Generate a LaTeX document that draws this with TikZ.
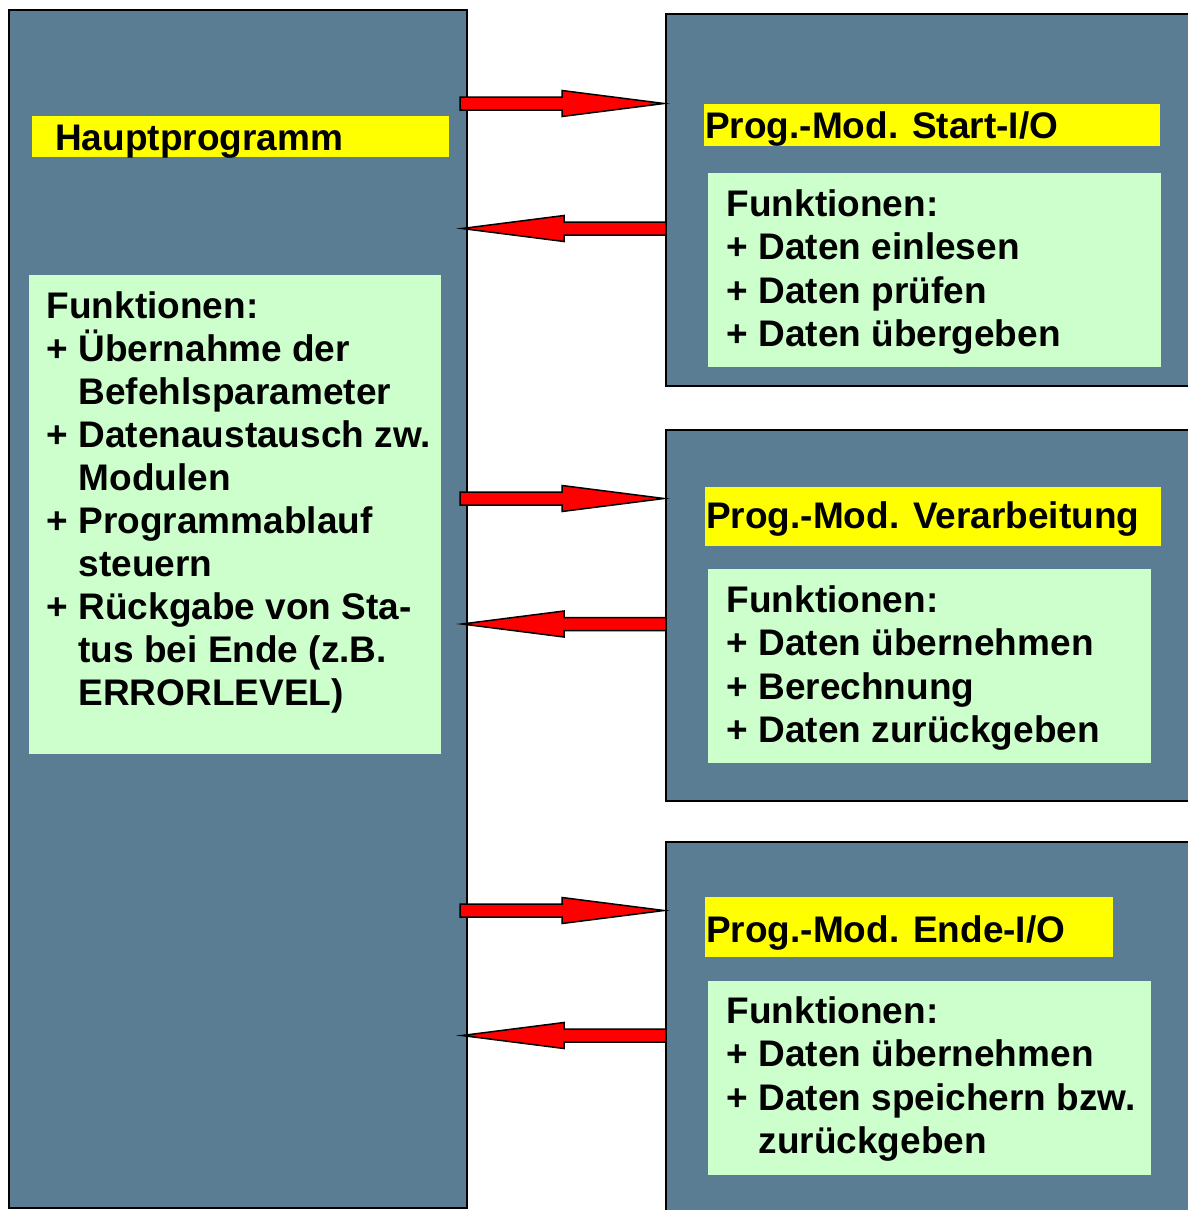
\documentclass[tikz,border=0pt]{standalone}
\usepackage{fontspec}
\setmainfont{Liberation Sans}
\usetikzlibrary{calc}
\definecolor{panelblue}{RGB}{91,125,147}
\definecolor{panelgreen}{RGB}{204,255,204}
\definecolor{labelyellow}{RGB}{255,255,0}
\newcommand\contind{\hphantom{+\ }}
\newcommand\firstline{\rule{0pt}{28pt}}

\begin{document}
\begin{tikzpicture}[x=1pt,y=-1pt,
  panel/.style={draw=black, line width=2.5pt, fill=panelblue, rectangle,
    inner sep=0pt, outer sep=0pt, anchor=north west},
  titlebar/.style={fill=labelyellow, inner sep=0pt, outer sep=0pt, anchor=north west},
  funcbox/.style={fill=panelgreen, inner sep=0pt, outer sep=0pt, anchor=north west},
  txt/.style={font=\fontsize{37}{43.5}\selectfont\bfseries, inner sep=0pt,
    align=left, anchor=north west},
  flow/.style={draw=black, line width=1.5pt, fill=red, line join=miter,
    to path={let \p1=(\tikztostart), \p2=(\tikztotarget), \n1={(\x1+\x2)/2} in
      ({\x1},{\y1+6.5pt}) -- ({\n1*1pt},{\y1+6.5pt}) -- ({\n1*1pt},{\y1+13pt})
      -- ({\x2},{\y2}) -- ({\n1*1pt},{\y1-13pt}) -- ({\n1*1pt},{\y1-6.5pt})
      -- ({\x1},{\y1-6.5pt}) -- cycle}}
]
\useasboundingbox (0,0) rectangle (1188,1210);
\fill[white] (0,0) rectangle (1188,1210);
\clip (0,0) rectangle (1188,1210);

% main program
\node[panel, minimum width=458pt, minimum height=1198pt] (main) at (9,10) {};
\node[titlebar, minimum width=417pt, minimum height=41pt] (mainT) at (32,116) {};
\node[txt, anchor=base west] (mainTt) at (55,150) {Hauptprogramm};
\node[funcbox, minimum width=412pt, minimum height=479pt] (mainF) at (29,275) {};
\node[txt, font=\fontsize{37}{43}\selectfont\bfseries] (mainFt) at (46.5,290) {\firstline Funktionen:\\
  + Übernahme der\\ \contind Befehlsparameter\\
  + Datenaustausch zw.\\ \contind Modulen\\
  + Programmablauf\\ \contind steuern\\
  + Rückgabe von Sta-\\ \contind tus bei Ende (z.B.\\ \contind ERRORLEVEL)};

% module: start I/O
\node[panel, minimum width=540pt, minimum height=372pt] (mod1) at (666,14) {};
\node[titlebar, minimum width=456pt, minimum height=42pt] (mod1T) at (704,104) {};
\node[txt, anchor=base west] (mod1Tt) at (705,138) {Prog.-Mod. Start-I/O};
\node[funcbox, minimum width=453pt, minimum height=194pt] (mod1F) at (708,173) {};
\node[txt] (mod1Ft) at (726.5,188) {\firstline Funktionen:\\
  + Daten einlesen\\ + Daten prüfen\\ + Daten übergeben};

% module: processing
\node[panel, minimum width=540pt, minimum height=371pt] (mod2) at (666,430) {};
\node[titlebar, minimum width=456pt, minimum height=59pt] (mod2T) at (705,487) {};
\node[txt, anchor=base west] (mod2Tt) at (706,528) {Prog.-Mod. Verarbeitung};
\node[funcbox, minimum width=443pt, minimum height=194pt] (mod2F) at (708,569) {};
\node[txt] (mod2Ft) at (726.5,584) {\firstline Funktionen:\\
  + Daten übernehmen\\ + Berechnung\\ + Daten zurückgeben};

% module: end I/O
\node[panel, minimum width=540pt, minimum height=400pt] (mod3) at (666,842) {};
\node[titlebar, minimum width=408pt, minimum height=60pt] (mod3T) at (705,897) {};
\node[txt, anchor=base west] (mod3Tt) at (706,942) {Prog.-Mod. Ende-I/O};
\node[funcbox, minimum width=443pt, minimum height=194pt] (mod3F) at (708,981) {};
\node[txt] (mod3Ft) at (726.5,995) {\firstline Funktionen:\\
  + Daten übernehmen\\ + Daten speichern bzw.\\ \contind zurückgeben};

% call / return levels
\coordinate (c1) at (0,103.5);  \coordinate (r1) at (0,228.5);
\coordinate (c2) at (0,498.5);  \coordinate (r2) at (0,624);
\coordinate (c3) at (0,910.5);  \coordinate (r3) at (0,1035.5);

\foreach \m/\c/\r in {mod1/c1/r1, mod2/c2/r2, mod3/c3/r3}{
  \draw[flow] ($(main.east |- \c)+(-7,0)$) to ($(\m.west |- \c)+(-2,0)$);
  \draw[flow] (\m.west |- \r) to ($(main.east |- \r)+(-5,0)$);
}
\end{tikzpicture}
\end{document}
